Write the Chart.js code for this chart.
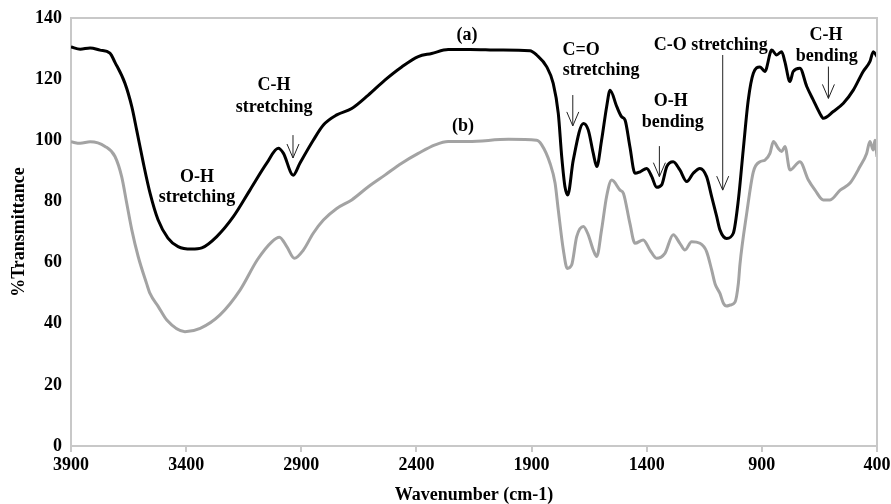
<!DOCTYPE html>
<html>
<head>
<meta charset="utf-8">
<script src="https://cdn.jsdelivr.net/npm/chart.js@4/dist/chart.umd.min.js"></script>
<style>
  html, body { margin: 0; padding: 0; background: #ffffff; }
  #wrap { width: 891px; height: 504px; position: relative; }
</style>
</head>
<body>
<div id="wrap"><canvas id="c" width="891" height="504"></canvas></div>
<script>
// ---- Data ----
const wavenumberA = [3900,3860,3817,3774,3731,3709,3666,3636,3615,3586,3557,3522,3479,3435,3376,3332,3267,3195,3123,3050,3000,2978,2935,2906,2848,2804,2746,2681,2609,2537,2464,2392,2334,2262,2167,2037,1907,1878,1834,1806,1784,1769,1755,1743,1719,1675,1654,1632,1617,1596,1574,1559,1530,1509,1494,1473,1451,1429,1400,1378,1357,1335,1313,1285,1256,1226,1198,1169,1140,1118,1096,1082,1053,1024,1002,981,959,937,908,887,857,836,814,800,778,764,735,705,677,648,633,590,546,503,460,431,416,400];
const transmittanceA = [130.5,129.8,130.2,129.5,128.5,125.5,118.7,111,103.4,92.6,82.8,74,68,65.2,64.4,64.8,68.5,75,83.7,92.5,97.4,95.8,88.6,92.5,100,105,108.3,110.4,114.8,119.7,124,127.4,128.4,129.7,129.7,129.5,129.3,127.9,124,118.6,108.8,94.6,84.8,82.1,93.5,105.5,103.4,95.7,91.4,100,111,116.4,111,107.7,106.6,97.9,89.2,89.7,90.8,88.1,84.6,85.4,91.4,93,90.3,86.5,89.2,90.8,88.1,81.6,75,70.7,67.9,69.6,80.5,96.8,113.2,121.9,124,122.5,129.5,127.9,129,125.7,119.2,122.5,123.6,117.6,113.2,108.8,107.2,109.4,112.1,116.4,122.5,125.7,129,127.4];

const wavenumberB = [3900,3860,3817,3752,3709,3680,3658,3636,3608,3572,3557,3521,3484,3405,3339,3253,3166,3090,3028,2995,2963,2930,2891,2848,2804,2746,2681,2609,2537,2464,2392,2319,2262,2175,2000,1878,1856,1820,1798,1784,1762,1745,1726,1704,1675,1654,1632,1617,1596,1574,1552,1516,1501,1473,1451,1415,1386,1357,1321,1285,1256,1234,1205,1169,1140,1118,1103,1082,1067,1053,1038,1017,1002,995,966,937,908,887,865,850,829,814,800,778,735,698,669,633,604,560,517,474,445,431,416,409,400];
const transmittanceB = [99.5,99,99.5,98,94.7,88.1,79.4,70.7,61.9,53.2,49.9,45.6,41.2,37.4,38.5,42.9,51,61,66.8,68.3,65.2,61.4,64.1,69.6,73.9,77.7,80.5,84.8,88.6,92.5,95.7,98.5,99.6,99.6,100.3,100,98.5,92.5,86,77.2,64.1,58.1,59.2,68.5,71.8,69.1,64.1,62,70.7,81.7,87,83.7,82.6,72.8,66.3,67.4,64.1,61.4,63,69.1,66.3,64.1,66.8,66.3,63.6,57.6,53,49.9,46.7,45.8,46.1,47,53.2,59.5,76,89.7,93,93.5,95.7,99.6,97.4,96.3,98,90.3,93,87,83.7,80.5,80.5,83.7,86,91.4,95.7,99.6,96.8,100,94.6];

const xTickValues = [3900,3400,2900,2400,1900,1400,900,400];
const yTickValues = [0,20,40,60,80,100,120,140];

// Annotation text lines: [text, wavenumber, %T]
const labelTexts = ["(a)","(b)","O-H","stretching","C-H","stretching","C=O","stretching","O-H","bending","C-O stretching","C-H","bending"];
const labelX     = [2180,2198,3353,3353,3018,3018,1685,1598,1296,1287,1122,621,618];
const labelY     = [134.4,104.7,88.0,81.4,118.1,110.9,129.5,123.0,112.6,105.8,131.2,134.4,127.3];

// Arrows: wavenumber, tail %T, tip %T
const arrowX    = [2936,1721,1345,1070,611];
const arrowTail = [101.7,114.8,98.1,127.9,124.1];
const arrowTip  = [94.2,104.7,88.1,83.7,113.7];

const FONT = "'Liberation Serif', 'Times New Roman', serif";

const toPoints = (xs, ys) => xs.map((x, i) => ({x: x, y: ys[i]}));

const annotPlugin = {
  id: 'annot',
  afterDatasetsDraw(chart) {
    const ctx = chart.ctx, xs = chart.scales.x, ys = chart.scales.y, a = chart.chartArea;
    ctx.save();
    ctx.strokeStyle = '#c8c8c8';
    ctx.lineWidth = 2;
    ctx.beginPath();
    ctx.moveTo(a.left, a.top); ctx.lineTo(a.right, a.top); ctx.lineTo(a.right, a.bottom);
    ctx.stroke();
    ctx.fillStyle = '#000';
    ctx.font = 'bold 18px ' + FONT;
    ctx.textAlign = 'center';
    ctx.textBaseline = 'middle';
    labelTexts.forEach((t, i) => {
      ctx.fillText(t, xs.getPixelForValue(labelX[i]), ys.getPixelForValue(labelY[i]));
    });
    ctx.strokeStyle = '#222';
    ctx.lineWidth = 1;
    arrowX.forEach((w, i) => {
      const x = xs.getPixelForValue(w);
      const y0 = ys.getPixelForValue(arrowTail[i]);
      const y1 = ys.getPixelForValue(arrowTip[i]);
      ctx.beginPath();
      ctx.moveTo(x, y0); ctx.lineTo(x, y1);
      ctx.moveTo(x - 6, y1 - 14); ctx.lineTo(x, y1); ctx.lineTo(x + 6, y1 - 14);
      ctx.stroke();
    });
    ctx.restore();
  }
};

new Chart(document.getElementById('c'), {
  type: 'line',
  data: {
    datasets: [
      { label: '(b)', data: toPoints(wavenumberB, transmittanceB), borderColor: '#a3a3a3', borderWidth: 3, pointRadius: 0, cubicInterpolationMode: 'monotone', fill: false },
      { label: '(a)', data: toPoints(wavenumberA, transmittanceA), borderColor: '#000000', borderWidth: 3, pointRadius: 0, cubicInterpolationMode: 'monotone', fill: false }
    ]
  },
  options: {
    responsive: false,
    animation: false,
    events: [],
    layout: { padding: { top: 18, right: 14, left: 0, bottom: 0 } },
    plugins: { legend: { display: false }, tooltip: { enabled: false } },
    scales: {
      x: {
        type: 'linear', reverse: true, min: 400, max: 3900,
        afterFit: s => { s.height = 58; s.paddingLeft = 0; s.paddingRight = 0; },
        afterBuildTicks: s => { s.ticks = xTickValues.map(v => ({value: v})); },
        ticks: { color: '#000', font: { family: FONT, size: 18, weight: 'bold' }, padding: 3, maxRotation: 0, autoSkip: false, callback: v => String(v) },
        grid: { display: true, drawOnChartArea: false, drawTicks: true, tickLength: 6, color: '#c8c8c8', lineWidth: 2 },
        border: { display: true, color: '#c8c8c8', width: 2 },
        title: { display: true, text: 'Wavenumber (cm-1)', color: '#000', font: { family: FONT, size: 18, weight: 'bold', lineHeight: 1 }, padding: { top: 0, bottom: 0 } }
      },
      y: {
        type: 'linear', min: 0, max: 140,
        afterFit: s => { s.width = 71; s.paddingTop = 0; s.paddingBottom = 0; },
        afterBuildTicks: s => { s.ticks = yTickValues.map(v => ({value: v})); },
        ticks: { color: '#000', font: { family: FONT, size: 18, weight: 'bold' }, padding: 9, callback: v => String(v) },
        grid: { display: false, drawTicks: false },
        border: { display: true, color: '#c8c8c8', width: 2 },
        title: { display: true, text: '%Transmittance', color: '#000', font: { family: FONT, size: 18, weight: 'bold', lineHeight: 1 }, padding: { top: 10, bottom: 0 } }
      }
    }
  },
  plugins: [annotPlugin]
});
</script>
</body>
</html>
